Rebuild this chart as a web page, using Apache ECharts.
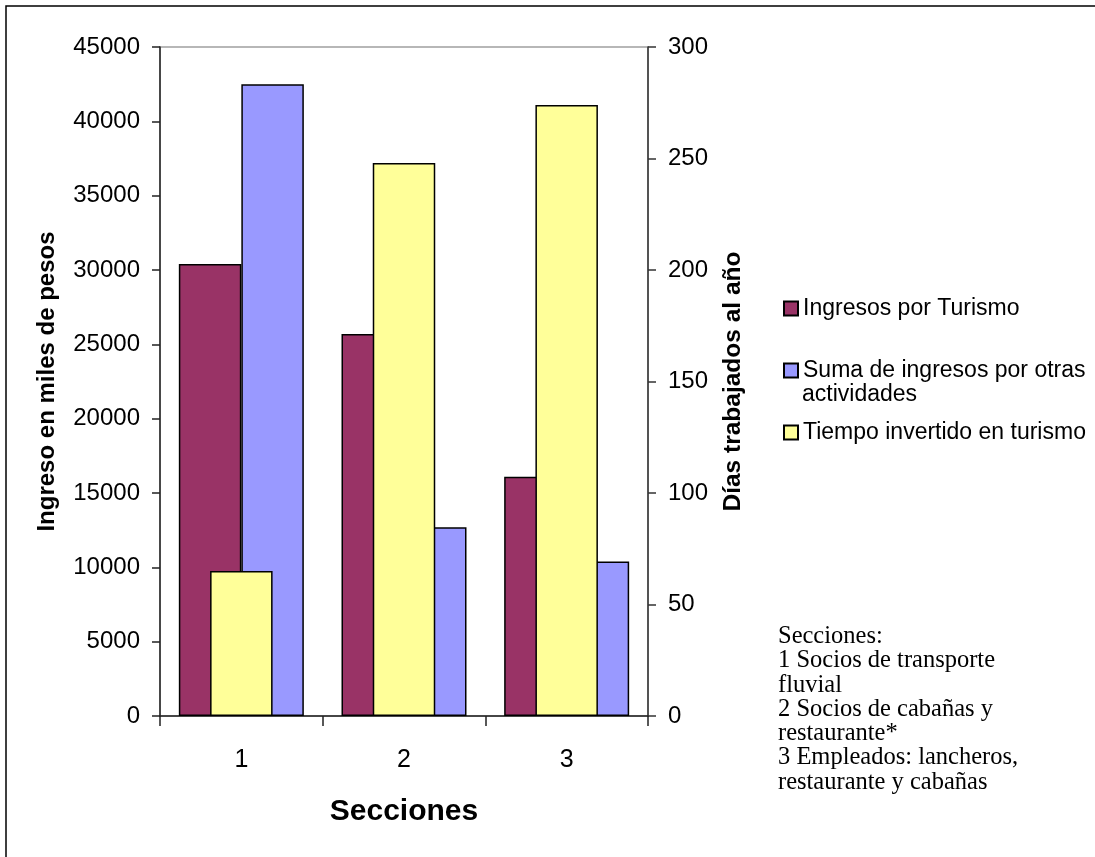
<!DOCTYPE html>
<html>
<head>
<meta charset="utf-8">
<script src="https://cdn.jsdelivr.net/npm/echarts@6/dist/echarts.min.js"></script>
<style>
  html, body { margin: 0; padding: 0; background: #fff; }
  #chart { width: 1095px; height: 857px; }
</style>
</head>
<body>
<div id="chart"></div>
<script>
var categories = ['1', '2', '3'];
var ingresosTurismo = [30400, 25700, 16100];
var otrasActividades = [42500, 12700, 10400];
var tiempoTurismo = [65, 248, 274];
var notas = [
  'Secciones:',
  '1 Socios de transporte',
  'fluvial',
  '2 Socios de cabañas y',
  'restaurante*',
  '3 Empleados: lancheros,',
  'restaurante y cabañas'
];

var chart = echarts.init(document.getElementById('chart'));

var font = '"Liberation Sans", Arial, sans-serif';
var barBorder = { borderColor: '#000', borderWidth: 1.5 };

var legendBase = {
  orient: 'vertical',
  left: 783,
  padding: 0,
  itemWidth: 14,
  itemHeight: 14,
  itemGap: 5,
  icon: 'rect',
  textStyle: { fontFamily: font, fontSize: 23, color: '#000' }
};

var plain = function (v) { return String(v); };

var option = {
  animation: false,
  backgroundColor: '#fff',
  textStyle: { fontFamily: font },
  grid: {
    left: 160, right: 447, top: 47, bottom: 141,
    show: true, borderColor: '#a0a0a0', borderWidth: 1.5
  },
  legend: [
    Object.assign({}, legendBase, { top: 297, data: ['Ingresos por Turismo'] }),
    Object.assign({}, legendBase, {
      top: 359,
      data: ['Suma de ingresos por otras actividades'],
      formatter: function () { return 'Suma de ingresos por otras'; }
    }),
    Object.assign({}, legendBase, { top: 421, data: ['Tiempo invertido en turismo'] })
  ],
  xAxis: [
    {
      type: 'category',
      data: categories,
      name: 'Secciones',
      nameLocation: 'middle',
      nameGap: 81,
      nameTextStyle: { fontFamily: font, fontSize: 30, fontWeight: 'bold', color: '#000', verticalAlign: 'top' },
      axisLine: { lineStyle: { color: '#222', width: 1.5 } },
      axisTick: { show: true, length: 10, lineStyle: { color: '#222', width: 1.5 } },
      axisLabel: { fontFamily: font, fontSize: 25, color: '#000', margin: 32 }
    },
    {
      type: 'category',
      data: categories,
      show: false
    }
  ],
  yAxis: [
    {
      type: 'value',
      min: 0, max: 45000, interval: 5000,
      name: 'Ingreso en miles de pesos',
      nameLocation: 'middle',
      nameGap: 101,
      nameTextStyle: { fontFamily: font, fontSize: 24, fontWeight: 'bold', color: '#000' },
      axisLine: { show: true, lineStyle: { color: '#222', width: 1.5 } },
      axisTick: { show: true, length: 8, lineStyle: { color: '#222', width: 1.5 } },
      axisLabel: { fontFamily: font, fontSize: 24, color: '#000', margin: 20, formatter: plain },
      splitLine: { show: false }
    },
    {
      type: 'value',
      min: 0, max: 300, interval: 50,
      position: 'right',
      name: 'Días trabajados al año',
      nameLocation: 'middle',
      nameGap: 73,
      nameTextStyle: { fontFamily: font, fontSize: 24.5, fontWeight: 'bold', color: '#000' },
      axisLine: { show: true, lineStyle: { color: '#333', width: 1.5 } },
      axisTick: { show: true, length: 8, lineStyle: { color: '#333', width: 1.5 } },
      axisLabel: { fontFamily: font, fontSize: 24, color: '#000', margin: 20, formatter: plain },
      splitLine: { show: false }
    }
  ],
  series: [
    {
      name: 'Ingresos por Turismo',
      type: 'bar',
      xAxisIndex: 0, yAxisIndex: 0,
      barWidth: 62.5, barGap: '0%',
      itemStyle: Object.assign({ color: '#993366' }, barBorder),
      data: ingresosTurismo
    },
    {
      name: 'Suma de ingresos por otras actividades',
      type: 'bar',
      xAxisIndex: 0, yAxisIndex: 0,
      barWidth: 62.5, barGap: '0%',
      itemStyle: Object.assign({ color: '#9999FF' }, barBorder),
      data: otrasActividades
    },
    {
      name: 'Tiempo invertido en turismo',
      type: 'bar',
      xAxisIndex: 1, yAxisIndex: 1,
      barWidth: 62.5,
      itemStyle: Object.assign({ color: '#FFFF99' }, barBorder),
      data: tiempoTurismo
    }
  ],
  graphic: [
    // chart frame (only top/left edges fall inside the picture)
    {
      type: 'rect', silent: true, z: -1,
      shape: { x: 6, y: 6, width: 1200, height: 1000 },
      style: { fill: 'none', stroke: '#000', lineWidth: 1.5 }
    },
    // second line of the multi-line legend entry
    {
      type: 'text', left: 802, top: 383,
      style: { text: 'actividades', font: '23px ' + font, fill: '#000' }
    },
    {
      type: 'text', left: 778, top: 624,
      style: {
        text: notas.join('\n'),
        font: '24.5px "Liberation Serif", "Times New Roman", serif',
        lineHeight: 24.3,
        fill: '#000'
      }
    }
  ]
};

chart.setOption(option);
</script>
</body>
</html>
